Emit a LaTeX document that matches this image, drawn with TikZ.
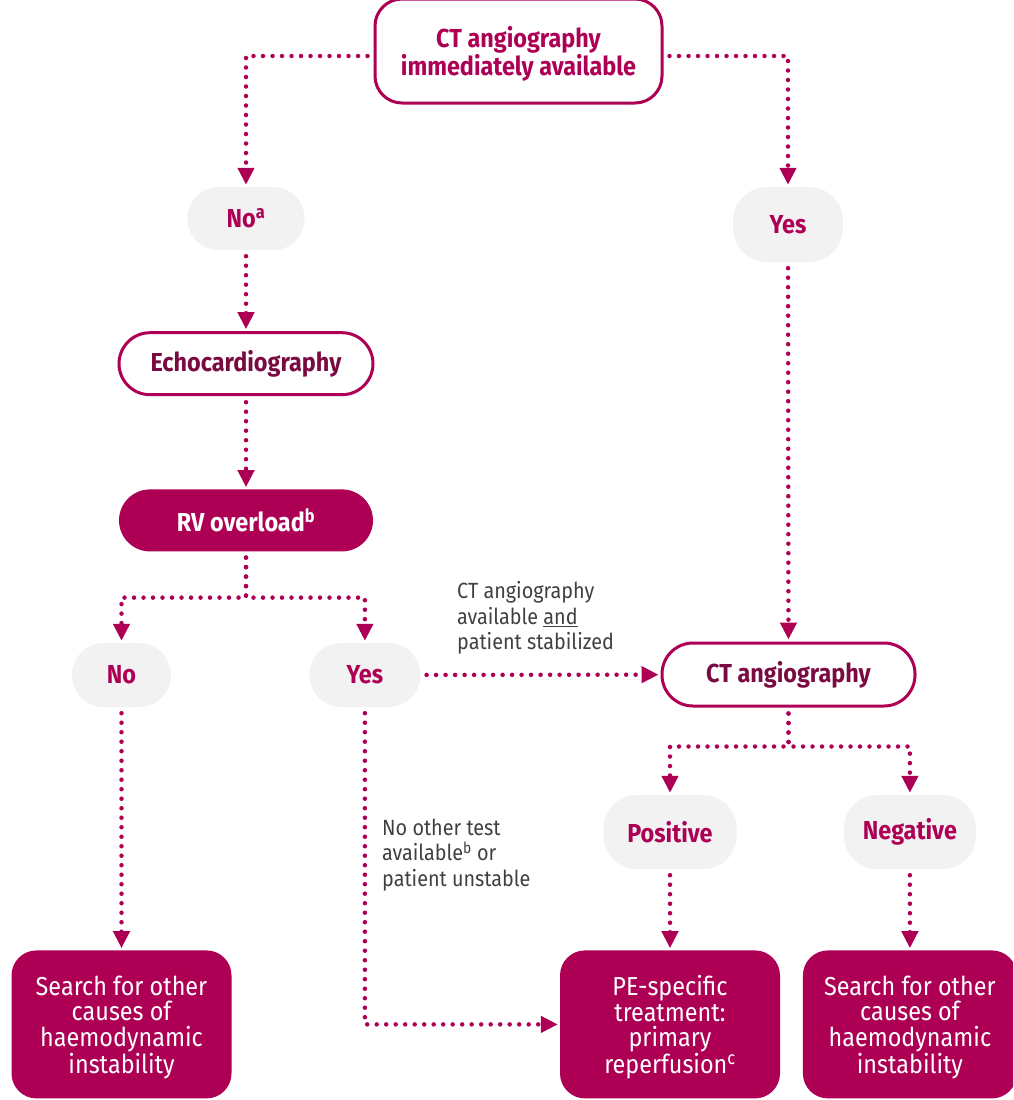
\documentclass[tikz,border=0pt]{standalone}
\usepackage{fontspec}
\setmainfont{Fira Sans}[FakeStretch=0.9]
\usetikzlibrary{positioning,arrows.meta}

\definecolor{berry}{HTML}{AD0055}
\definecolor{wine}{HTML}{7A0A42}
\definecolor{pale}{HTML}{F2F2F2}
\definecolor{ink}{HTML}{404040}

\tikzset{
  box/.style={align=center, inner sep=0pt, font=\fontsize{26}{25.5}\selectfont},
  outline/.style={box, draw=berry, line width=3pt, fill=white, text=wine, font=\fontsize{26}{26}\selectfont\bfseries},
  answer/.style={box, fill=pale, text=berry, font=\fontsize{26}{26}\selectfont\bfseries},
  result/.style={box, fill=berry, text=white, rounded corners=25pt},
  note/.style={align=left, inner sep=0pt, text=ink, font=\fontsize{22}{25.5}\selectfont},
  flow/.style={draw=berry, line width=4.5pt, line cap=round, dash pattern=on 0pt off 9.5pt,
    -{Triangle[width=16pt,length=17pt]}, shorten <=6pt, shorten >=2pt}
}

\begin{document}
\begin{tikzpicture}[x=1pt, y=-1pt]
  \useasboundingbox (0,0) rectangle (1013,1100);
  \clip (0,0) rectangle (1013,1100);

  % question at the top
  \node[outline, text=berry, text depth=-3pt, rounded corners=27pt, minimum width=287pt, minimum height=104pt] (top) at (518.5,51) {CT angiography\\immediately available};
  \node[answer, rounded corners=31pt, minimum width=117pt, minimum height=63pt] (noA) at (246,218.5) {No\textsuperscript{a}};
  \node[answer, rounded corners=34pt, minimum width=110pt, minimum height=75pt] (yesA) at (788,224.5) {Yes};

  % left branch
  \node[outline, rounded corners=31pt, minimum width=254pt, minimum height=62pt, below=81pt of noA] (echo) {Echocardiography};
  \node[result, rounded corners=31pt, font=\fontsize{26}{26}\selectfont\bfseries, minimum width=254pt, minimum height=62pt, below=93pt of echo] (rv) {RV overload\textsuperscript{b}};
  \coordinate (rvsplit) at ([yshift=-46pt]rv.south);
  \node[answer, rounded corners=32pt, minimum width=99pt, minimum height=64pt] (noB) at (121.5,675) {No};
  \node[answer, rounded corners=32pt, minimum width=111pt, minimum height=64pt, right=138pt of noB] (yesB) {Yes};

  % right branch
  \node[outline, rounded corners=31pt, minimum width=253pt, minimum height=63pt] (cta) at (788.5,674.5) {CT angiography};
  \coordinate (ctsplit) at ([yshift=-39pt]cta.south);
  \node[answer, rounded corners=33pt, minimum width=133pt, minimum height=74pt] (pos) at (670,832) {Positive};
  \node[answer, rounded corners=33pt, minimum width=132pt, minimum height=74pt, right=107pt of pos] (neg) {Negative};

  % outcomes
  \tikzset{result/.append style={text depth=-3pt}}
  \node[result, minimum width=220pt, minimum height=148pt, below=243pt of noB] (searchL) {Search for other\\causes of\\haemodynamic\\instability};
  \node[result, minimum width=220pt, minimum height=148pt, below=81pt of pos] (pe) {PE-specific\\treatment:\\primary\\reperfusion\textsuperscript{c}};
  \node[result, minimum width=214pt, minimum height=148pt, below=81pt of neg] (searchR) {Search for other\\causes of\\haemodynamic\\instability};

  % conditions
  \node[note, anchor=west] (avail) at (457,618) {CT angiography\\available \underline{and}\\patient stabilized};
  \node[note, anchor=west] (unavail) at (382,855) {No other test\\available\textsuperscript{b} or\\patient unstable};

  % connectors
  \draw[flow] ([yshift=-5pt]top.west) -| (noA.north);
  \draw[flow] ([yshift=-5pt]top.east) -| (yesA.north);
  \draw[flow] (noA) -- (echo);
  \draw[flow] (echo) -- (rv);
  \draw[flow] (rv.south) -- (rvsplit) -| (noB.north);
  \draw[flow] (rv.south) -- (rvsplit) -| (yesB.north);
  \draw[flow] (yesB) -- (cta);
  \draw[flow] (yesA) -- (cta);
  \draw[flow] (cta.south) -- (ctsplit) -| (pos.north);
  \draw[flow] (cta.south) -- (ctsplit) -| (neg.north);
  \draw[flow] (noB) -- (searchL);
  \draw[flow] (pos) -- (pe);
  \draw[flow] (neg) -- (searchR);
  \draw[flow] (yesB.south) |- (pe.west);
\end{tikzpicture}
\end{document}
